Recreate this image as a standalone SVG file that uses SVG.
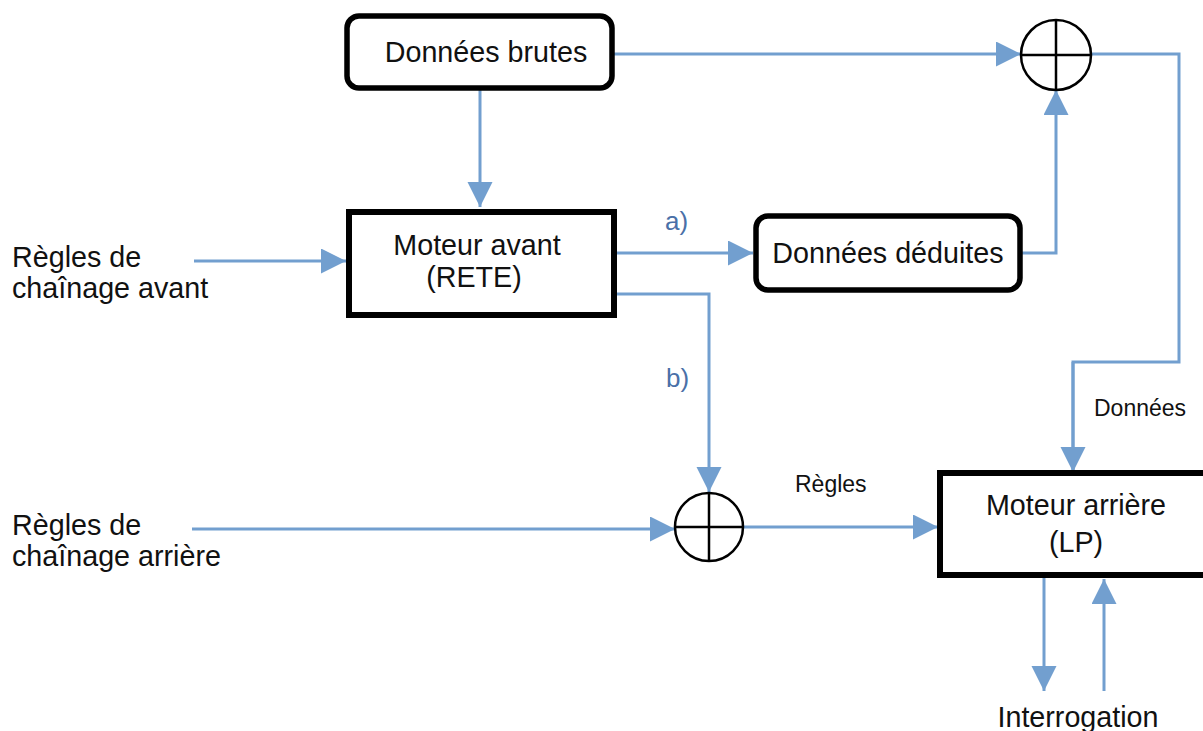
<svg xmlns="http://www.w3.org/2000/svg" width="1203" height="731" viewBox="0 0 1203 731">
<style>
.t{font-family:"Liberation Sans",Arial,sans-serif;font-size:28.7px;fill:#111}
.s{font-family:"Liberation Sans",Arial,sans-serif;font-size:23px;fill:#111}
.l{font-family:"Liberation Sans",Arial,sans-serif;font-size:26px;fill:#4a70a8}
.box{fill:#fff;stroke:#000;stroke-width:6}
.rbox{fill:#fff;stroke:#000;stroke-width:5.5}
.sum{fill:#fff;stroke:#000;stroke-width:2.5}
.c{fill:none;stroke:#729fcf;stroke-width:3;marker-end:url(#ah)}
.cn{fill:none;stroke:#729fcf;stroke-width:3}
</style>
<defs>
<marker id="ah" markerUnits="userSpaceOnUse" markerWidth="26" markerHeight="26" refX="25" refY="12.5" orient="auto">
<path d="M0,0 L25,12.5 L0,25 Z" fill="#729fcf"/>
</marker>
</defs>
<g id="connectors">
<path class="c" d="M612,54 H1021"/>
<path class="cn" d="M1091,54 H1179 V362 H1073 V472"/>
<path class="c" d="M1073,362 V472"/>
<path class="c" d="M480,88 V207"/>
<path class="c" d="M194,261 H346"/>
<path class="c" d="M614,253 H753"/>
<path class="c" d="M614,294 H709 V492"/>
<path class="c" d="M1020,253 H1056 V90"/>
<path class="c" d="M192,529 H675"/>
<path class="c" d="M743,527 H938"/>
<path class="c" d="M1044,578 V691"/>
<path class="c" d="M1104,691 V579"/>
</g>
<g id="donnees-brutes">
<rect class="rbox" x="347" y="16" width="265" height="72" rx="12"/>
<text class="t" x="486" y="62" text-anchor="middle">Données brutes</text>
</g>
<g id="sum-top">
<circle class="sum" cx="1056" cy="55" r="35"/>
<path class="sum" d="M1021,55 H1091 M1056,20 V90"/>
</g>
<g id="moteur-avant">
<rect class="box" x="349" y="212" width="265" height="103"/>
<text class="t" x="477" y="255" text-anchor="middle">Moteur avant</text>
<text class="t" x="474" y="287" text-anchor="middle">(RETE)</text>
</g>
<g id="donnees-deduites">
<rect class="rbox" x="756" y="216" width="264" height="74" rx="12"/>
<text class="t" x="888" y="263" text-anchor="middle">Données déduites</text>
</g>
<g id="label-a"><text class="l" x="665" y="230">a)</text></g>
<g id="label-b"><text class="l" x="666" y="387">b)</text></g>
<g id="regles-avant">
<text class="t" x="12" y="267">Règles de</text>
<text class="t" x="12" y="298">chaînage avant</text>
</g>
<g id="regles-arriere">
<text class="t" x="12" y="535">Règles de</text>
<text class="t" x="12" y="566">chaînage arrière</text>
</g>
<g id="sum-bottom">
<circle class="sum" cx="709" cy="527" r="34"/>
<path class="sum" d="M675,527 H743 M709,493 V561"/>
</g>
<g id="label-regles"><text class="s" x="795" y="492">Règles</text></g>
<g id="label-donnees"><text class="s" x="1094" y="416">Données</text></g>
<g id="moteur-arriere">
<rect class="box" x="940" y="473" width="274" height="102"/>
<text class="t" x="1076" y="515" text-anchor="middle">Moteur arrière</text>
<text class="t" x="1076" y="552" text-anchor="middle">(LP)</text>
</g>
<g id="interrogation"><text class="t" x="1078" y="727" text-anchor="middle">Interrogation</text></g>
</svg>
